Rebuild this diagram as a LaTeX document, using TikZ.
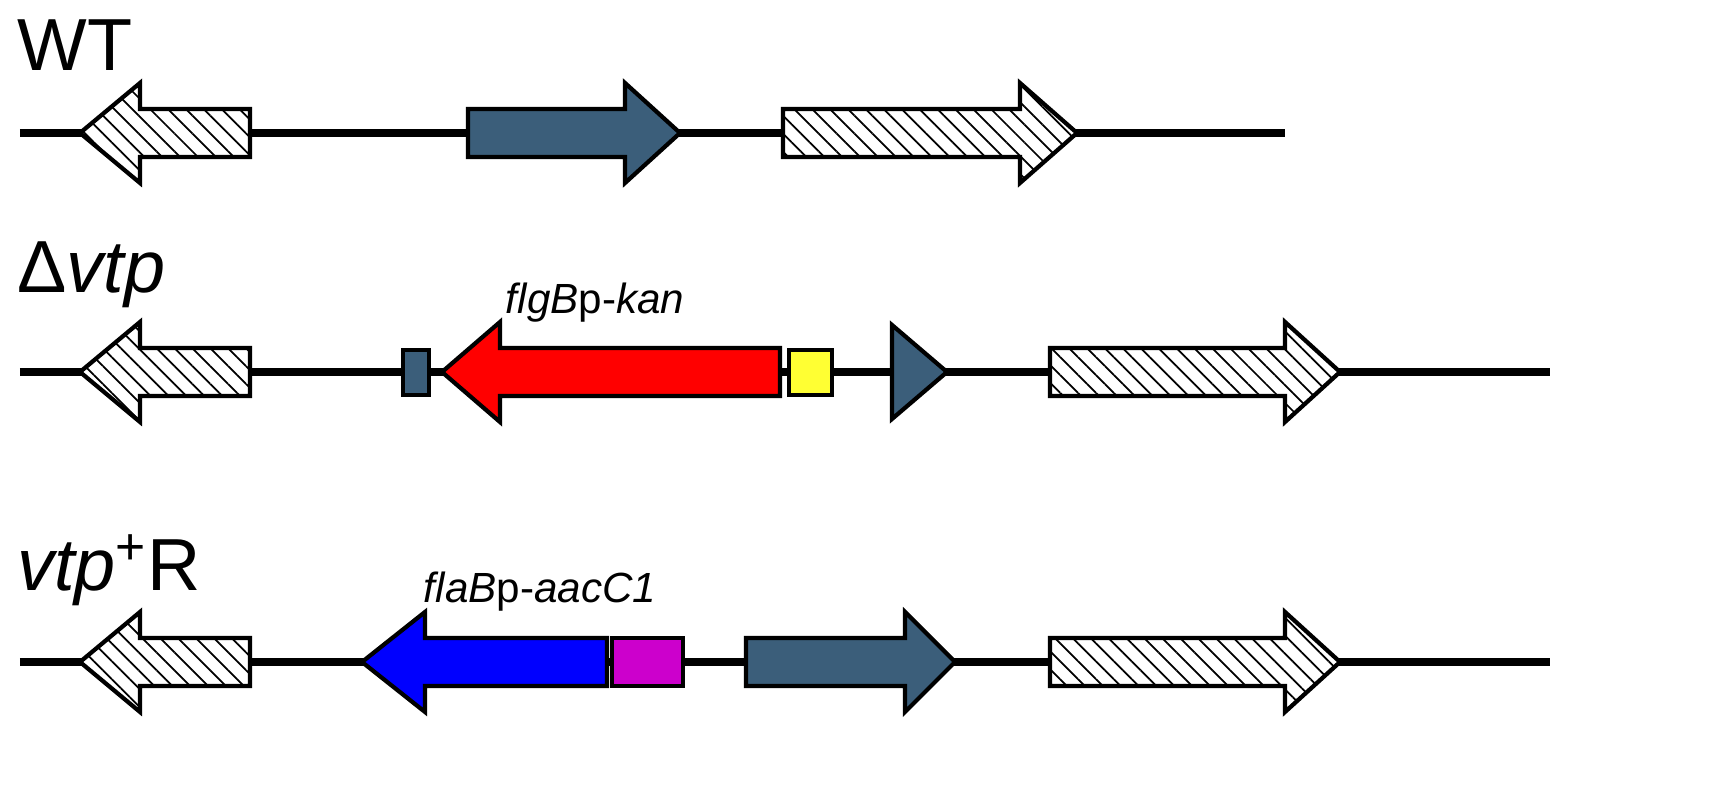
\documentclass[tikz,border=0pt]{standalone}
\usepackage{fontspec}
\setmainfont{Liberation Sans}
\usetikzlibrary{patterns.meta}
\definecolor{vtpblue}{RGB}{59,94,122}
\definecolor{kanred}{RGB}{255,0,0}
\definecolor{termyellow}{RGB}{255,255,51}
\definecolor{aacblue}{RGB}{0,0,255}
\definecolor{termmag}{RGB}{204,0,204}
% gene arrow: body start, body end, tip, centre line
\newcommand{\genearrow}[5]{%
  \draw[gene,#5] (#1,#4-.24) -- (#2,#4-.24) -- (#2,#4-.5) -- (#3,#4)
    -- (#2,#4+.5) -- (#2,#4+.24) -- (#1,#4+.24) -- cycle;}
\begin{document}
\begin{tikzpicture}[x=1cm,y=1cm]
    \tikzstyle{gene}=[draw=black,line width=1.2pt,line join=miter]
    \tikzstyle{hatched}=[fill=white,postaction={pattern={Lines[angle=-45,distance=3.6pt,line width=0.5pt]}}]
    \tikzstyle{dna}=[line width=2.4pt]
    \tikzstyle{strain}=[anchor=west,font=\fontsize{21}{24}\selectfont]
    \tikzstyle{cassette}=[font=\fontsize{12}{14}\selectfont\itshape]
    \useasboundingbox (0,0) rectangle (17.23,8);

    % WT
    \node[strain] (wt) at (0.05,7.55) {WT};
    \draw[dna] (0.2,6.67) -- (12.85,6.67);
    \genearrow{2.5}{1.4}{0.8}{6.67}{hatched}
    \genearrow{4.68}{6.25}{6.8}{6.67}{fill=vtpblue}
    \genearrow{7.83}{10.2}{10.77}{6.67}{hatched}

    % deletion
    \node[strain] (dvtp) at (0.05,5.25) {Δ\textit{vtp}};
    \draw[dna] (0.2,4.28) -- (15.5,4.28);
    \genearrow{2.5}{1.4}{0.8}{4.28}{hatched}
    \draw[gene,fill=vtpblue] (4.03,4.05) rectangle (4.29,4.5);
    \genearrow{7.8}{5.0}{4.42}{4.28}{fill=kanred}
    \node[cassette] (kan) at (5.95,4.97) {flgB\upshape p-\itshape kan};
    \draw[gene,fill=termyellow] (7.89,4.05) rectangle (8.32,4.5);
    \draw[gene,fill=vtpblue] (8.92,3.81) -- (9.47,4.28) -- (8.92,4.75) -- cycle;
    \genearrow{10.5}{12.85}{13.4}{4.28}{hatched}

    % complement
    \node[strain] (comp) at (0.05,2.3) {\textit{vtp}\textsuperscript{+}R};
    \draw[dna] (0.2,1.38) -- (15.5,1.38);
    \genearrow{2.5}{1.4}{0.8}{1.38}{hatched}
    \genearrow{6.07}{4.25}{3.62}{1.38}{fill=aacblue}
    \node[cassette] (aac) at (5.4,2.08) {flaB\upshape p-\itshape aacC1};
    \draw[gene,fill=termmag] (6.12,1.14) rectangle (6.83,1.62);
    \genearrow{7.46}{9.05}{9.55}{1.38}{fill=vtpblue}
    \genearrow{10.5}{12.85}{13.4}{1.38}{hatched}
\end{tikzpicture}
\end{document}
